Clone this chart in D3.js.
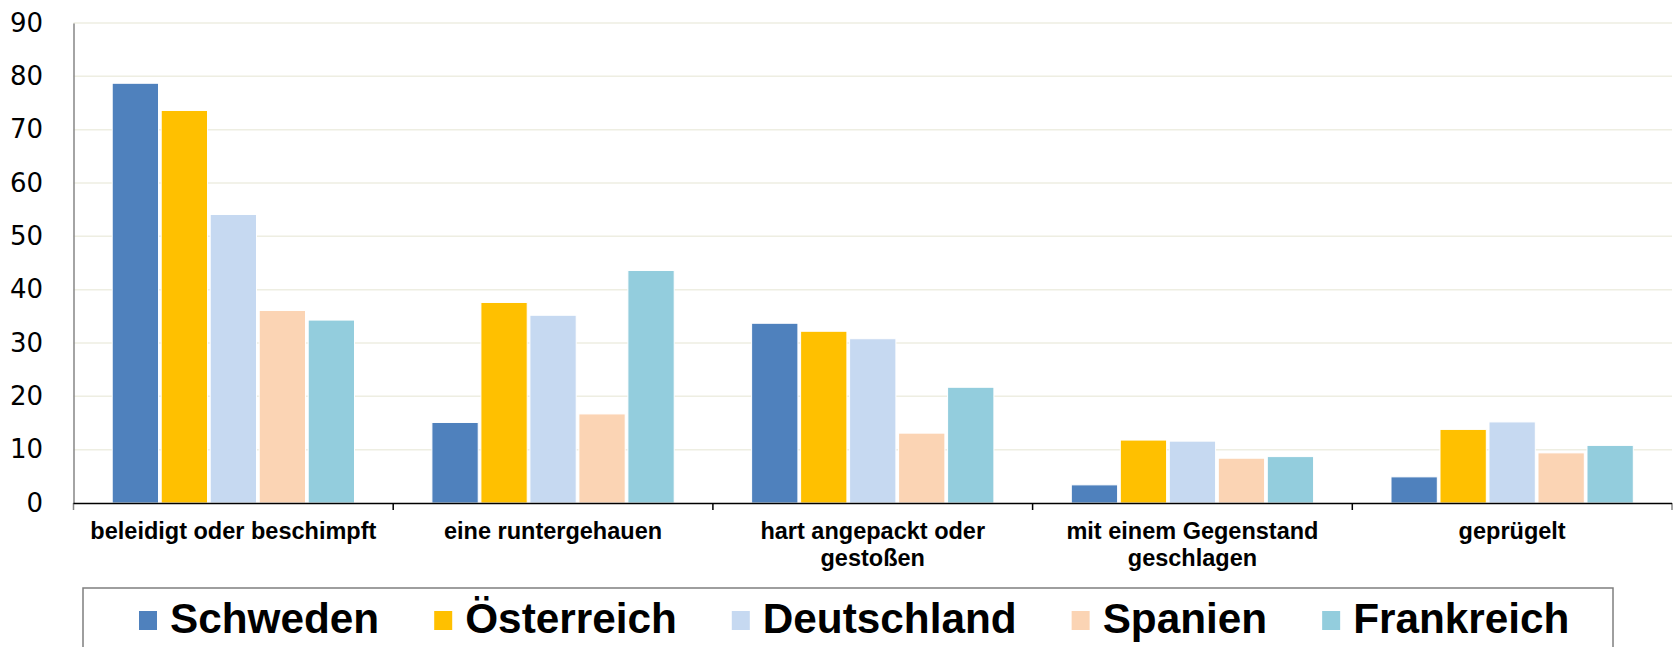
<!DOCTYPE html>
<html>
<head>
<meta charset="utf-8">
<script src="https://cdn.jsdelivr.net/npm/d3@7"></script>
<style>
  html, body { margin: 0; padding: 0; background: #fff; overflow: hidden; }
  svg { display: block; }
</style>
</head>
<body>
<svg id="chart" width="1677" height="647"></svg>
<script>
// ---- data ----
const categories = [
  "beleidigt oder beschimpft",
  "eine runtergehauen",
  "hart angepackt oder\ngestoßen",
  "mit einem Gegenstand\ngeschlagen",
  "geprügelt"
];
const seriesNames = ["Schweden", "Österreich", "Deutschland", "Spanien", "Frankreich"];
const schweden    = [78.7, 15.1, 33.7, 3.4, 4.9];
const oesterreich = [73.6, 37.6, 32.2, 11.8, 13.8];
const deutschland = [54.1, 35.2, 30.8, 11.6, 15.2];
const spanien     = [36.1, 16.7, 13.1, 8.4, 9.4];
const frankreich  = [34.3, 43.6, 21.7, 8.7, 10.8];
const yTicks = [0, 10, 20, 30, 40, 50, 60, 70, 80, 90];
const colors = ["#4f81bd", "#ffc000", "#c6d9f1", "#fbd4b4", "#93cddd"];

const seriesValues = [schweden, oesterreich, deutschland, spanien, frankreich];

// ---- layout ----
const svg = d3.select("#chart");
const mLeft = 73.5, mRight = 1672, mTop = 23, mBottom = 503;

const x0 = d3.scaleBand().domain(categories).range([mLeft, mRight]).padding(0);
const x1 = d3.scaleBand().domain(seriesNames).range([0, x0.bandwidth()])
  .paddingInner(0.055).paddingOuter(0.79);
const y = d3.scaleLinear().domain([0, 90]).range([mBottom, mTop]);

// gridlines
svg.append("g").selectAll("line").data(yTicks.filter(d => d > 0)).join("line")
  .attr("x1", mLeft).attr("x2", mRight)
  .attr("y1", d => y(d)).attr("y2", d => y(d))
  .attr("stroke", "#eeeee2").attr("stroke-width", 1.5);

// bars
const groups = svg.append("g").selectAll("g").data(categories).join("g")
  .attr("transform", d => `translate(${x0(d)},0)`);
groups.selectAll("rect")
  .data((c, ci) => seriesNames.map((s, si) => ({ s, si, v: seriesValues[si][ci] })))
  .join("rect")
  .attr("x", d => x1(d.s))
  .attr("width", x1.bandwidth())
  .attr("y", d => y(d.v))
  .attr("height", d => y(0) - y(d.v))
  .attr("fill", d => colors[d.si])
  .attr("stroke", "#ffffff").attr("stroke-width", 1);

// y axis
const yAxis = d3.axisLeft(y).tickValues(yTicks).tickSize(0).tickPadding(30.5);
const gy = svg.append("g").attr("transform", `translate(${mLeft},0)`).call(yAxis);
gy.select(".domain").attr("stroke", "#868686").attr("stroke-width", 1.5);
gy.selectAll("text")
  .attr("font-family", "'DejaVu Sans', sans-serif")
  .attr("font-size", 26).attr("fill", "#000");

// x axis (category boundaries as ticks)
const bounds = categories.map(c => x0(c)).concat([mRight]);
svg.append("g").selectAll("line").data(bounds).join("line")
  .attr("x1", d => d).attr("x2", d => d)
  .attr("y1", mBottom).attr("y2", mBottom + 7)
  .attr("stroke", (d, i) => (i === 0 || i === bounds.length - 1) ? "#868686" : "#000")
  .attr("stroke-width", 1.5);
svg.append("line")
  .attr("x1", mLeft).attr("x2", mRight).attr("y1", mBottom + 0.5).attr("y2", mBottom + 0.5)
  .attr("stroke", "#000").attr("stroke-width", 1.5);

// x labels
const xl = svg.append("g").selectAll("text").data(categories).join("text")
  .attr("x", d => x0(d) + x0.bandwidth() / 2)
  .attr("y", 539)
  .attr("text-anchor", "middle")
  .attr("font-family", "'Liberation Sans', Arial, sans-serif")
  .attr("font-weight", "bold")
  .attr("font-size", 23.5)
  .attr("fill", "#000");
xl.each(function(d) {
  const t = d3.select(this);
  d.split("\n").forEach((line, i) => {
    t.append("tspan").attr("x", x0(d) + x0.bandwidth() / 2)
      .attr("dy", i === 0 ? 0 : 26.5).text(line);
  });
});

// legend
svg.append("rect")
  .attr("x", 83).attr("y", 588).attr("width", 1530).attr("height", 90)
  .attr("fill", "none").attr("stroke", "#7f7f7f").attr("stroke-width", 1.5);
let lx = 139;
seriesNames.forEach((s, i) => {
  svg.append("rect").attr("x", lx).attr("y", 611).attr("width", 18).attr("height", 19)
    .attr("fill", colors[i]);
  const t = svg.append("text").attr("x", lx + 31).attr("y", 632.5)
    .attr("font-family", "'Liberation Sans', Arial, sans-serif")
    .attr("font-weight", "bold").attr("font-size", 42.3).attr("fill", "#000")
    .text(s);
  lx = lx + 31 + t.node().getComputedTextLength() + 55;
});
</script>
</body>
</html>
